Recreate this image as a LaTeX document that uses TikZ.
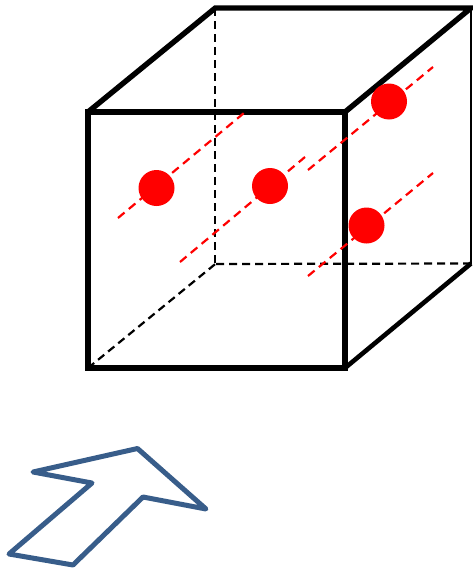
\documentclass[tikz,border=0pt]{standalone}
\tikzset{
  edgethick/.style={line width=5.4pt,line join=miter},
  edgeside/.style={line width=4.6pt,line cap=butt},
  edgethin/.style={line width=2.4pt},
  hidden/.style={line width=2.2pt,dash pattern=on 8pt off 5pt},
  axis/.style={line width=2.2pt,red,dash pattern=on 8.5pt off 5.6pt},
  dot/.style={circle,fill=red,draw=none,minimum size=36pt,inner sep=0pt},
  bigarrow/.style={line width=5pt,draw={rgb,255:red,56;green,93;blue,138},line join=round,line cap=round}
}
\begin{document}
\begin{tikzpicture}[x=1pt,y=-1pt]
\useasboundingbox (0,0) rectangle (472,570);
% cube corners
\coordinate (fa) at (88,112);
\coordinate (fb) at (345,112);
\coordinate (fc) at (345,368);
\coordinate (fd) at (88,368);
\coordinate (ba) at (215.3,8);
\coordinate (bb) at (471,8);
\coordinate (bc) at (471,263.5);
\coordinate (bd) at (215.3,264);
% hidden edges
\draw[hidden] (ba) -- (bd);
\draw[hidden] (bc) -- (bd);
\draw[hidden] (fd) -- (bd);
% red axes
\coordinate (r1a) at (118,218); \coordinate (r1b) at (244,113);
\coordinate (r2a) at (180,262); \coordinate (r2b) at (305,157);
\coordinate (r3a) at (308,170); \coordinate (r3b) at (433,67);
\coordinate (r4a) at (308,276); \coordinate (r4b) at (433,173);
% visible edges
\draw[edgethin] (bb) -- (bc);
\draw[edgeside] (fc) -- (bc);
\draw[edgethick] (fa) -- (fb) -- (fc) -- (fd) -- cycle;
\draw[edgethick] (fa) -- (ba) -- (bb) -- (fb);
\draw[axis] (r1a) -- (r1b);
\draw[axis] (r2a) -- (r2b);
\draw[axis] (r3a) -- (r3b);
\draw[axis] (r4a) -- (r4b);
% dots
\node[dot] (d1) at (156.5,188) {};
\node[dot] (d2) at (270,186) {};
\node[dot] (d3) at (389,101.5) {};
\node[dot] (d4) at (366.5,225.5) {};
% arrow
\coordinate (p1) at (9,554);
\coordinate (p2) at (92,483);
\coordinate (p3) at (33,472);
\coordinate (p4) at (137.5,448.5);
\coordinate (p5) at (206,509);
\coordinate (p6) at (143,497);
\coordinate (p7) at (73,565);
\draw[bigarrow] (p1) -- (p2) -- (p3) -- (p4) -- (p5) -- (p6) -- (p7) -- cycle;
\end{tikzpicture}
\end{document}
